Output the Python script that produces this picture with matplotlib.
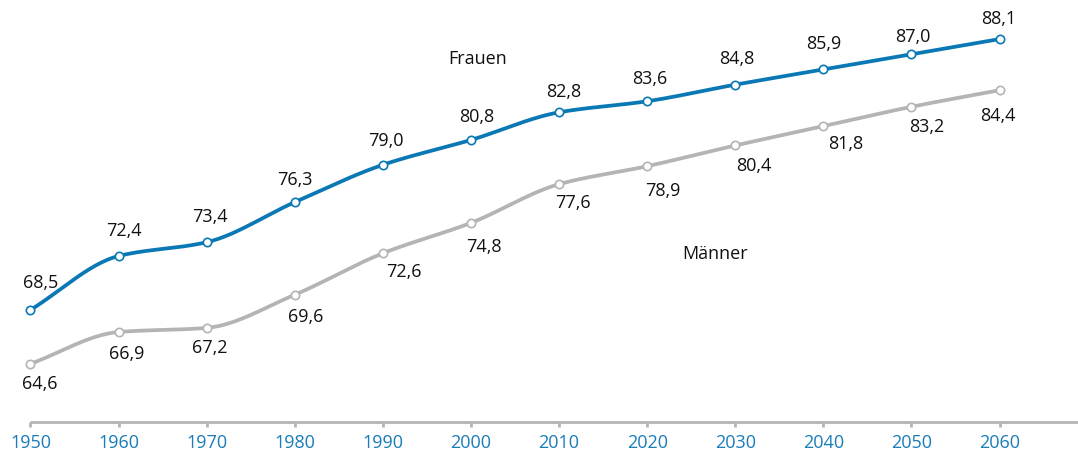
import numpy as np
import matplotlib
matplotlib.use("Agg")
import matplotlib.pyplot as plt

plt.rcParams["font.family"] = ["Open Sans", "DejaVu Sans"]

years = [1950, 1960, 1970, 1980, 1990, 2000, 2010, 2020, 2030, 2040, 2050, 2060]
frauen = [68.5, 72.4, 73.4, 76.3, 79.0, 80.8, 82.8, 83.6, 84.8, 85.9, 87.0, 88.1]
maenner = [64.6, 66.9, 67.2, 69.6, 72.6, 74.8, 77.6, 78.9, 80.4, 81.8, 83.2, 84.4]
frauen_label = "Frauen"
maenner_label = "Männer"

BLUE = "#0a78b4"
GRAY = "#b4b4b4"
TICK_BLUE = "#1a7cb8"

# label offsets in points (dx, dy), as placed in the original
f_off = [(7, 20), (4, 19), (2, 19), (0, 17), (2, 18), (4, 17), (3, 15), (2, 17), (1, 19), (0, 19), (1, 13), (-1, 15)]
m_off = [(7, -14), (6, -15), (2, -14), (8, -15), (15, -13), (9, -17), (10, -13), (11, -17), (13, -14), (16, -12), (11, -14), (-1, -18)]


def monotone(x, y, n=30):
    """Fritsch-Carlson monotone cubic through the points (drawing only)."""
    x = np.asarray(x, float)
    y = np.asarray(y, float)
    h = np.diff(x)
    d = np.diff(y) / h
    m = np.zeros_like(y)
    m[0], m[-1] = d[0], d[-1]
    for i in range(1, len(y) - 1):
        if d[i - 1] * d[i] > 0:
            m[i] = 3 * (h[i - 1] + h[i]) / ((2 * h[i] + h[i - 1]) / d[i - 1] + (h[i] + 2 * h[i - 1]) / d[i])
    xs, ys = [], []
    t = np.linspace(0, 1, n, endpoint=False)
    h00 = 2 * t**3 - 3 * t**2 + 1
    h10 = t**3 - 2 * t**2 + t
    h01 = -2 * t**3 + 3 * t**2
    h11 = t**3 - t**2
    for i in range(len(h)):
        xs.append(x[i] + t * h[i])
        ys.append(h00 * y[i] + h10 * h[i] * m[i] + h01 * y[i + 1] + h11 * h[i] * m[i + 1])
    xs.append([x[-1]])
    ys.append([y[-1]])
    return np.concatenate(xs), np.concatenate(ys)


fig = plt.figure(figsize=(10.78, 4.56), dpi=100)
ax = fig.add_axes([0, 0, 1, 1])
ax.set_xlim(1946.54, 2068.9)
ax.set_ylim(58.0, 91.0)
ax.axis("off")

for vals, col, offs in [(frauen, BLUE, f_off), (maenner, GRAY, m_off)]:
    sx, sy = monotone(years, vals)
    ax.plot(sx, sy, color=col, lw=2.7, solid_capstyle="round", zorder=2)
    ax.plot(years, vals, "o", ms=6, mfc="white", mec=col, mew=1.2, zorder=3)
    for x, v, (dx, dy) in zip(years, vals, offs):
        ax.annotate(f"{v:.1f}".replace(".", ","), (x, v), xytext=(dx, dy),
                    textcoords="offset points", ha="center", va="center",
                    fontsize=13, color="#111111")

ax.text(2000.7, 86.75, frauen_label, ha="center", va="center", fontsize=13, color="#111111")
ax.text(2027.7, 72.6, maenner_label, ha="center", va="center", fontsize=13, color="#111111")

# axis line and ticks
base = 60.4
ax.plot([years[0], 2070], [base, base], color=GRAY, lw=2, solid_capstyle="butt", zorder=1, clip_on=False)
for x in years:
    ax.plot([x, x], [base, base - 0.4], color=GRAY, lw=2, solid_capstyle="butt")
    ax.text(x, base - 1.45, str(x), ha="center", va="center", fontsize=13, color=TICK_BLUE)

fig.savefig("out.png", dpi=100)
